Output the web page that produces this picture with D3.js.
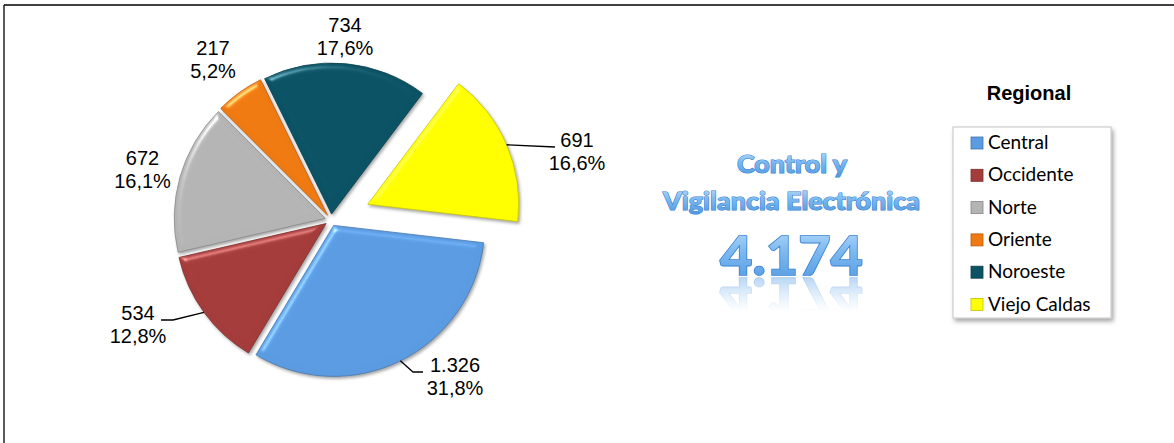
<!DOCTYPE html>
<html><head><meta charset="utf-8">
<script src="https://cdn.jsdelivr.net/npm/d3@7"></script>
<style>body{margin:0;background:#fff}svg{display:block}</style>
</head><body><svg id="chart" width="1174" height="443"></svg>
<script>
// ---- data ----
const categories = ["Central", "Occidente", "Norte", "Oriente", "Noroeste", "Viejo Caldas"];
const values = [1326, 534, 672, 217, 734, 691];
const colorsList = ["#5B9BE1", "#A33C3A", "#B4B4B4", "#F07A12", "#0B5264", "#FFFF00"];
const titleLines = ["Control y", "Vigilancia Electrónica"];
const legendTitle = "Regional";

// ---- layout ----
const W = 1174, H = 443;
const cx = 331, cy = 220, R = 151;
const startDeg = 96.6;
const explode = [6, 6, 6, 6, 6, 40];
const labelOffsets = [[124, 152], [-193, 100], [-188.5, -55], [-118, -165], [14, -188], [246, -73]];
const leaderPts = { 0: [[82, 152], [92, 152]], 1: [[-158, 100], [-170, 100]], 5: [[224, -73]] };

const loc = d3.formatLocale({decimal: ",", thousands: ".", grouping: [3], currency: ["$", ""]});
const fmtInt = loc.format(",d");
const fmtPct = loc.format(".1f");

const svg = d3.select("#chart");
const defs = svg.append("defs");

// bevel filter
const bev = defs.append("filter").attr("id", "bevel").attr("x", "-10%").attr("y", "-10%").attr("width", "120%").attr("height", "120%")
  .attr("color-interpolation-filters", "sRGB");
bev.append("feGaussianBlur").attr("in", "SourceAlpha").attr("stdDeviation", 3).attr("result", "blur");
const spec = bev.append("feSpecularLighting").attr("in", "blur").attr("surfaceScale", 4).attr("specularConstant", 0.9)
  .attr("specularExponent", 35).attr("lighting-color", "#ffffff").attr("result", "spec");
spec.append("feDistantLight").attr("azimuth", 235).attr("elevation", 35);
bev.append("feComposite").attr("in", "spec").attr("in2", "SourceAlpha").attr("operator", "in").attr("result", "specIn");
bev.append("feComposite").attr("in", "SourceGraphic").attr("in2", "specIn").attr("operator", "arithmetic")
  .attr("k1", 0).attr("k2", 1).attr("k3", 0.45).attr("k4", 0).attr("result", "lit");
bev.append("feDropShadow").attr("in", "lit").attr("dx", 1.5).attr("dy", 2).attr("stdDeviation", 1.6)
  .attr("flood-color", "#000").attr("flood-opacity", 0.35);

const sh = defs.append("filter").attr("id", "boxshadow").attr("x", "-10%").attr("y", "-10%").attr("width", "125%").attr("height", "125%");
sh.append("feDropShadow").attr("dx", 2).attr("dy", 3).attr("stdDeviation", 2).attr("flood-color", "#000").attr("flood-opacity", 0.35);

const tg = defs.append("linearGradient").attr("id", "titleGrad").attr("x1", 0).attr("y1", 0).attr("x2", 0).attr("y2", 1);
tg.append("stop").attr("offset", "0%").attr("stop-color", "#bfe0fb");
tg.append("stop").attr("offset", "45%").attr("stop-color", "#7db9f0");
tg.append("stop").attr("offset", "100%").attr("stop-color", "#4f97e0");

// fading mask for reflections
const mg = defs.append("linearGradient").attr("id", "maskGrad").attr("gradientUnits", "userSpaceOnUse")
  .attr("x1", 0).attr("y1", 276).attr("x2", 0).attr("y2", 312);
mg.append("stop").attr("offset", "0%").attr("stop-color", "#fff").attr("stop-opacity", 0.45);
mg.append("stop").attr("offset", "100%").attr("stop-color", "#fff").attr("stop-opacity", 0);
defs.append("mask").attr("id", "reflMask").attr("maskUnits", "userSpaceOnUse")
  .attr("x", 0).attr("y", 0).attr("width", W).attr("height", H)
  .append("rect").attr("x", 600).attr("y", 276).attr("width", 400).attr("height", 40).attr("fill", "url(#maskGrad)");

// frame
svg.append("line").attr("x1", 4).attr("y1", 5).attr("x2", W).attr("y2", 5).attr("stroke", "#000").attr("stroke-width", 1.3);
svg.append("line").attr("x1", 4).attr("y1", 5).attr("x2", 4).attr("y2", H).attr("stroke", "#000").attr("stroke-width", 1.3);

// ---- pie ----
const color = d3.scaleOrdinal().domain(categories).range(colorsList);
const total = d3.sum(values);
const pie = d3.pie().sort(null).value(d => d.value)
  .startAngle(startDeg * Math.PI / 180).endAngle(startDeg * Math.PI / 180 + 2 * Math.PI);
const arcs = pie(categories.map((c, i) => ({cat: c, value: values[i], i})));
const arc = d3.arc().innerRadius(0).outerRadius(R);

const g = svg.append("g").attr("transform", `translate(${cx},${cy})`);
arcs.forEach(a => {
  const m = (a.startAngle + a.endAngle) / 2;
  a.mid = m;
  a.off = [explode[a.data.i] * Math.sin(m), -explode[a.data.i] * Math.cos(m)];
});
g.selectAll("path.slice").data(arcs).join("path")
  .attr("class", "slice")
  .attr("transform", d => `translate(${d.off[0]},${d.off[1]})`)
  .attr("d", arc)
  .attr("fill", d => color(d.data.cat))
  .attr("stroke", d => d3.color(color(d.data.cat)).darker(0.7))
  .attr("stroke-width", 0.8)
  .attr("stroke-linejoin", "round")
  .attr("filter", "url(#bevel)");

// leader lines
arcs.forEach(a => {
  const pts = leaderPts[a.data.i];
  if (!pts) return;
  const start = [a.off[0] + R * Math.sin(a.mid), a.off[1] - R * Math.cos(a.mid)];
  g.append("path").attr("d", d3.line()([start, ...pts]))
    .attr("fill", "none").attr("stroke", "#000").attr("stroke-width", 1.3);
});

// labels
const lab = g.selectAll("text.lab").data(arcs).join("text")
  .attr("class", "lab")
  .attr("text-anchor", "middle")
  .attr("font-family", "Liberation Sans, Arial, sans-serif")
  .attr("font-size", 20)
  .attr("fill", "#000");
lab.append("tspan").attr("x", d => labelOffsets[d.data.i][0]).attr("y", d => labelOffsets[d.data.i][1])
  .text(d => fmtInt(d.data.value));
lab.append("tspan").attr("x", d => labelOffsets[d.data.i][0]).attr("y", d => labelOffsets[d.data.i][1] + 23)
  .text(d => fmtPct(d.data.value / total * 100) + "%");

// ---- center title ----
const titleSpec = [
  {text: titleLines[0], x: 792, y: 173, size: 24, len: 110},
  {text: titleLines[1], x: 791.5, y: 210, size: 24, len: 257},
  {text: fmtInt(total), x: 791.5, y: 275, size: 54, len: 143}
];
const tgr = svg.append("g");
titleSpec.forEach((t, k) => {
  tgr.append("text")
    .attr("id", "title" + k)
    .attr("x", t.x).attr("y", t.y)
    .attr("text-anchor", "middle")
    .attr("font-family", "Lato, sans-serif").attr("font-weight", 900)
    .attr("font-size", t.size)
    .attr("textLength", t.len).attr("lengthAdjust", "spacingAndGlyphs")
    .attr("fill", "url(#titleGrad)")
    .attr("stroke", "#357fd0").attr("stroke-width", k === 2 ? 1.6 : 1.1)
    .attr("paint-order", "stroke")
    .text(t.text);
});
// reflection of the total (a mirrored <use> of the same text)
const last = titleSpec[2];
svg.append("g").attr("mask", "url(#reflMask)")
  .append("use").attr("href", "#title2")
  .attr("transform", `translate(0,${2 * last.y + 3}) scale(1,-1)`);

// ---- legend ----
svg.append("text").attr("x", 1029).attr("y", 100).attr("text-anchor", "middle")
  .attr("font-family", "Liberation Sans, Arial, sans-serif").attr("font-weight", 700).attr("font-size", 20)
  .text(legendTitle);
svg.append("rect").attr("x", 953).attr("y", 127).attr("width", 158).attr("height", 191)
  .attr("fill", "#fff").attr("stroke", "#c4c4c4").attr("stroke-width", 1).attr("filter", "url(#boxshadow)");
const lg = svg.append("g").selectAll("g").data(categories).join("g")
  .attr("transform", (d, i) => `translate(971,${149 + i * 32.3})`);
lg.append("rect").attr("x", 0).attr("y", -12).attr("width", 12).attr("height", 12)
  .attr("fill", d => color(d)).attr("stroke", d => d3.color(color(d)).darker(0.8)).attr("stroke-width", 0.8);
lg.append("text").attr("x", 17).attr("y", 0)
  .attr("font-family", "Lato, sans-serif").attr("font-size", 19)
  .attr("fill", "#000")
  .text(d => d);
</script>
</body></html>
